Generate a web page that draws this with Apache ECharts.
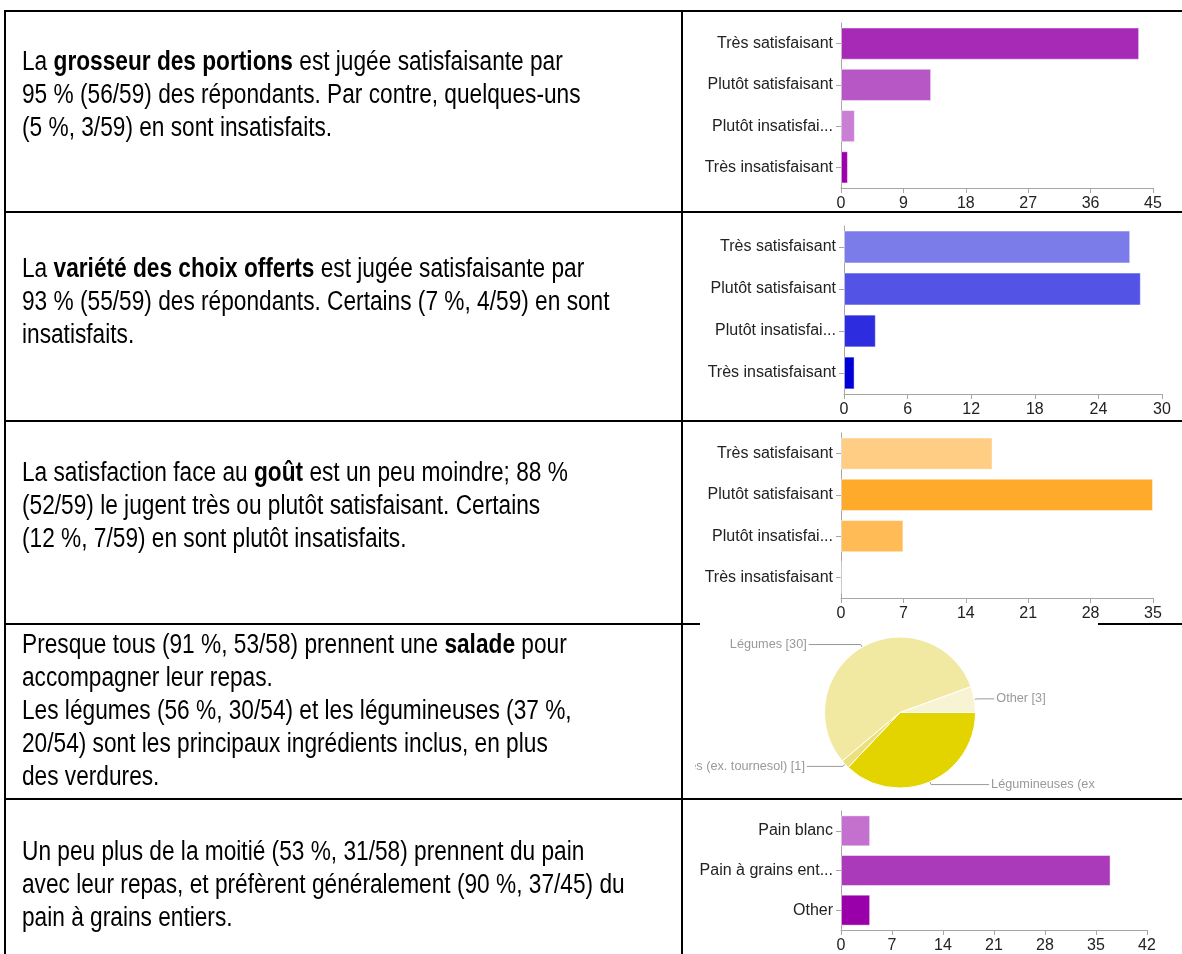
<!DOCTYPE html>
<html>
<head>
<meta charset="utf-8">
<script src="https://cdn.jsdelivr.net/npm/echarts@6/dist/echarts.min.js"></script>
<style>
  html, body { margin: 0; padding: 0; background: #fff; }
  #main { width: 1182px; height: 954px; }
</style>
</head>
<body>
<div id="main"></div>
<script>
// ---- data ----
var satisfactionCats = ['Très satisfaisant', 'Plutôt satisfaisant', 'Plutôt insatisfai...', 'Très insatisfaisant'];
var portionValues = [43, 13, 2, 1];
var varietyValues = [27, 28, 3, 1];
var tasteValues = [17, 35, 7, 0];

var breadCats = ['Pain blanc', 'Pain à grains ent...', 'Other'];
var breadValues = [4, 37, 4];

var saladNames = ['Légumineuses (ex', 'Graines (ex. tournesol)', 'Légumes', 'Other'];
var saladValues = [20, 1, 30, 3];

var portionTicks = { max: 45, interval: 9 };
var varietyTicks = { max: 30, interval: 6 };
var tasteTicks = { max: 35, interval: 7 };
var breadTicks = { max: 42, interval: 7 };

var rowTexts = [
  ['La {b|grosseur des portions} est jugée satisfaisante par',
   '95 % (56/59) des répondants. Par contre, quelques-uns',
   '(5 %, 3/59) en sont insatisfaits.'],
  ['La {b|variété des choix offerts} est jugée satisfaisante par',
   '93 % (55/59) des répondants. Certains (7 %, 4/59) en sont',
   'insatisfaits.'],
  ['La satisfaction face au {b|goût} est un peu moindre; 88 %',
   '(52/59) le jugent très ou plutôt satisfaisant. Certains',
   '(12 %, 7/59) en sont plutôt insatisfaits.'],
  ['Presque tous (91 %, 53/58) prennent une {b|salade} pour',
   'accompagner leur repas.',
   'Les légumes (56 %, 30/54) et les légumineuses (37 %,',
   '20/54) sont les principaux ingrédients inclus, en plus',
   'des verdures.'],
  ['Un peu plus de la moitié (53 %, 31/58) prennent du pain',
   'avec leur repas, et préfèrent généralement (90 %, 37/45) du',
   'pain à grains entiers.']
];

// ---- layout ----
// no Arial Narrow here: squeeze Liberation Sans horizontally instead
var textFont = "'Liberation Sans', Arial, sans-serif";
var chartFont = "'Liberation Sans', Arial, sans-serif";
var textSize = 27;
var textSqueeze = 0.84;
var lineGap = 33;
var firstLineY = [63, 270, 474, 646, 853];

var chart = echarts.init(document.getElementById('main'));

function barGrid(left, right, top, bottom) {
  return { left: left, right: right, top: top, bottom: bottom };
}

function valueAxis(idx, ticks) {
  return {
    type: 'value', gridIndex: idx, min: 0, max: ticks.max, interval: ticks.interval,
    splitLine: { show: false },
    axisLine: { show: true, lineStyle: { color: '#a6a6a6' } },
    axisTick: { show: true, length: 5, lineStyle: { color: '#a6a6a6' } },
    axisLabel: { color: '#222', fontSize: 16, fontFamily: chartFont, margin: 8,
                 showMinLabel: true, showMaxLabel: true }
  };
}

function catAxis(idx, cats) {
  return {
    type: 'category', gridIndex: idx, data: cats, inverse: true,
    axisLine: { show: true, lineStyle: { color: '#a6a6a6' } },
    axisTick: { show: true, length: 5, alignWithLabel: true, lineStyle: { color: '#a6a6a6' } },
    axisLabel: { color: '#222', fontSize: 16, fontFamily: chartFont, margin: 8 }
  };
}

function barSeries(idx, values, colors) {
  return {
    type: 'bar', xAxisIndex: idx, yAxisIndex: idx,
    barCategoryGap: '22%',
    data: values.map(function (v, i) {
      return { value: v, itemStyle: { color: colors[i] } };
    }),
    itemStyle: { borderColor: 'rgba(255,255,255,0.45)', borderWidth: 1 },
    silent: true
  };
}

// table text
var graphics = [];
rowTexts.forEach(function (lines, r) {
  lines.forEach(function (line, i) {
    graphics.push({
      type: 'text', x: 22, y: firstLineY[r] + i * lineGap, z: 50,
      scaleX: textSqueeze,
      style: {
        text: line, fill: '#000', fontSize: textSize, fontFamily: textFont,
        verticalAlign: 'middle',
        rich: { b: { fontWeight: 'bold', fontSize: textSize, fontFamily: textFont, fill: '#000' } }
      }
    });
  });
});

// masks that mimic the cropped pie picture
graphics.push({ type: 'rect', z: 100, shape: { x: 560, y: 754, width: 135, height: 24 }, style: { fill: '#fff' } });
graphics.push({ type: 'rect', z: 100, shape: { x: 1098, y: 772, width: 84, height: 25 }, style: { fill: '#fff' } });

// table borders
var borderStyle = { stroke: '#000', lineWidth: 2 };
function hLine(x1, x2, y) {
  graphics.push({ type: 'line', z: 110, shape: { x1: x1, y1: y, x2: x2, y2: y }, style: borderStyle });
}
function vLine(x, y1, y2) {
  graphics.push({ type: 'line', z: 110, shape: { x1: x, y1: y1, x2: x, y2: y2 }, style: borderStyle });
}
hLine(4, 1182, 11);
hLine(4, 1182, 212);
hLine(4, 1182, 421);
hLine(4, 700, 624);
hLine(1098, 1182, 624);
hLine(4, 1182, 799);
vLine(5, 10, 954);
vLine(682, 10, 954);

chart.setOption({
  animation: false,
  grid: [
    barGrid(841, 29, 23, 766),
    barGrid(844, 20, 226, 560),
    barGrid(841, 29, 433, 356),
    barGrid(841, 35, 811, 22)
  ],
  xAxis: [
    valueAxis(0, portionTicks),
    valueAxis(1, varietyTicks),
    valueAxis(2, tasteTicks),
    valueAxis(3, breadTicks)
  ],
  yAxis: [
    catAxis(0, satisfactionCats),
    catAxis(1, satisfactionCats),
    catAxis(2, satisfactionCats),
    catAxis(3, breadCats)
  ],
  series: [
    barSeries(0, portionValues, ['#a62ab6', '#b757c5', '#c87fd4', '#9c00ab']),
    barSeries(1, varietyValues, ['#7b7bea', '#5353e5', '#2d2ddf', '#0000d6']),
    barSeries(2, tasteValues, ['#ffcd84', '#ffaa2a', '#ffbb55', '#ff9900']),
    barSeries(3, breadValues, ['#c470cf', '#ab3aba', '#9a00a9']),
    {
      type: 'pie',
      center: [900, 712.5],
      radius: 75.5,
      startAngle: 0,
      clockwise: true,
      avoidLabelOverlap: false,
      silent: true,
      itemStyle: { borderColor: '#fff', borderWidth: 1 },
      label: {
        color: '#999', fontSize: 12.7, fontFamily: chartFont,
        formatter: '{b} [{c}]', distanceToLabelLine: 2
      },
      labelLine: { length: 3, length2: 40, smooth: false, lineStyle: { color: '#999', width: 1 } },
      data: saladNames.map(function (n, i) {
        var len2 = [58, 36, 52, 17][i];
        return {
          name: n, value: saladValues[i],
          itemStyle: { color: ['#e3d400', '#ebe07c', '#f1e9a1', '#f8f4d3'][i] },
          labelLine: { length2: len2 }
        };
      })
    }
  ],
  graphic: graphics
});
</script>
</body>
</html>
